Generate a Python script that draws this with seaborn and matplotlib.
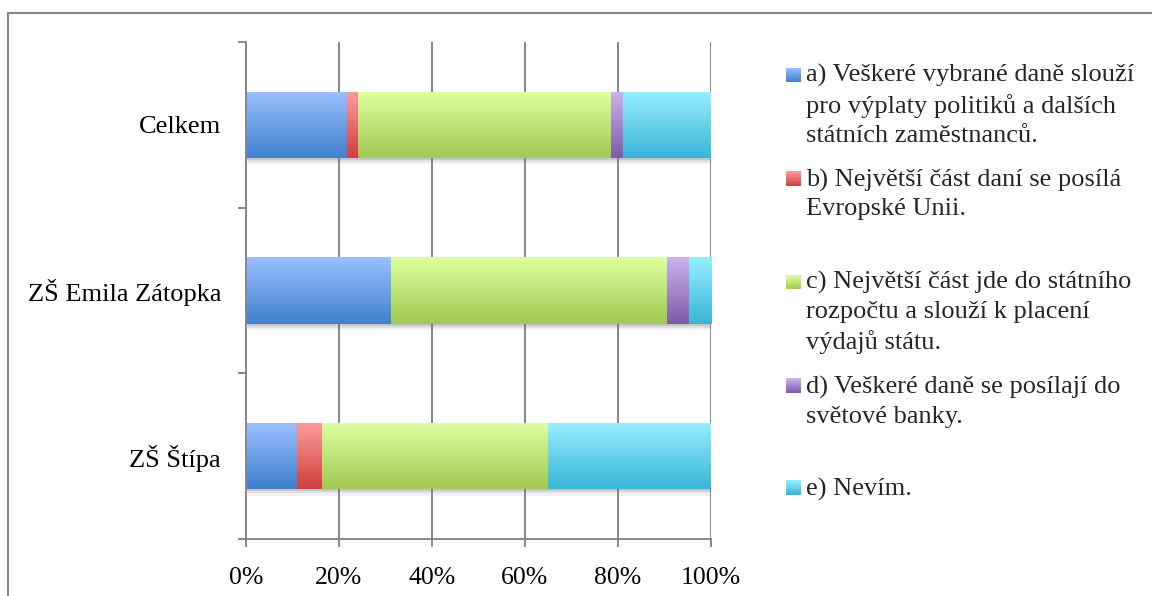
import numpy as np
import pandas as pd
import matplotlib
matplotlib.use("Agg")
import matplotlib.pyplot as plt
import seaborn as sns
import matplotlib.patheffects as pe
from matplotlib.colors import to_rgb
from matplotlib.patches import Rectangle
from matplotlib.legend_handler import HandlerBase
from matplotlib.lines import Line2D
from matplotlib.font_manager import FontProperties

# ---------------- data ----------------
categories = ["Celkem", "ZŠ Emila Zátopka", "ZŠ Štípa"]
series_labels = [
    "a) Veškeré vybrané daně slouží\npro výplaty politiků a dalších\nstátních zaměstnanců.",
    "b) Největší část daní se posílá\nEvropské Unii.",
    "c) Největší část jde do státního\nrozpočtu a slouží k placení\nvýdajů státu.",
    "d) Veškeré daně se posílají do\nsvětové banky.",
    "e) Nevím.",
]
a_vals = [21.5, 31.0, 10.8]
b_vals = [2.5, 0.0, 5.4]
c_vals = [54.4, 59.5, 48.6]
d_vals = [2.5, 4.8, 0.0]
e_vals = [19.0, 4.8, 35.1]
tick_values = [0, 20, 40, 60, 80, 100]
tick_labels = ["0%", "20%", "40%", "60%", "80%", "100%"]

# gradient colours (top, bottom) per series
top_colors = ["#9BC1FF", "#FF9C9C", "#DEFFA2", "#CBB3EC", "#97EFFF"]
bottom_colors = ["#3F7FCD", "#D03E3E", "#A1C94F", "#7D5AA8", "#38B5D6"]

sns.set_theme(style="white")
plt.rcParams["font.family"] = ["Liberation Serif", "DejaVu Serif"]

W, H = 1152, 596
fig = plt.figure(figsize=(W / 100, H / 100), dpi=100)
fig.patch.set_facecolor("white")
ax = fig.add_axes([246 / W, 1 - 539 / H, (711 - 246) / W, (539 - 42) / H])

values = np.array([a_vals, b_vals, c_vals, d_vals, e_vals], dtype=float)
pct = values / values.sum(axis=0) * 100
cum = np.cumsum(pct, axis=0)

grey = "#878787"
ax.set_axisbelow(True)
ax.xaxis.grid(True, color=grey, linewidth=1.4)
ax.yaxis.grid(False)

bar_sets = []
for i in reversed(range(5)):
    mid = tuple((np.array(to_rgb(top_colors[i])) + np.array(to_rgb(bottom_colors[i]))) / 2)
    n0 = len(ax.patches)
    df = pd.DataFrame({"category": categories, "value": cum[i]})
    sns.barplot(data=df, x="value", y="category", order=categories, orient="h",
                color=mid, saturation=1, width=0.4, linewidth=0, edgecolor="none",
                ax=ax, errorbar=None)
    bar_sets.append((i, ax.patches[n0:]))

ax.set_xlim(0, 100)
ax.set_ylim(2.5, -0.5)

for i, patches in bar_sets:
    t = np.array(to_rgb(top_colors[i]))
    b = np.array(to_rgb(bottom_colors[i]))
    f = np.linspace(0, 1, 128)[:, None]
    grad = (t * (1 - f) + b * f)[:, None, :]
    for p in patches:
        x0, w = p.get_x(), p.get_width()
        y0, h = p.get_y(), p.get_height()
        if w <= 0:
            continue
        if i == 4:
            p.set_path_effects([
                pe.SimplePatchShadow(offset=(1.5, -4.5), shadow_rgbFace="0.5", alpha=0.10),
                pe.SimplePatchShadow(offset=(1.0, -3.0), shadow_rgbFace="0.45", alpha=0.15),
                pe.SimplePatchShadow(offset=(0.5, -1.5), shadow_rgbFace="0.4", alpha=0.2),
                pe.Normal()])
        im = ax.imshow(grad, extent=(x0, x0 + w, y0 + h, y0), origin="upper",
                       aspect="auto", interpolation="bilinear", zorder=2 + (4 - i) * 0.1)
        im.set_clip_path(p)

ax.set_xlim(0, 100)
ax.set_ylim(2.5, -0.5)

# axes styling
for s in ["top", "right"]:
    ax.spines[s].set_visible(False)
for s in ["left", "bottom"]:
    ax.spines[s].set_color(grey)
    ax.spines[s].set_linewidth(1.4)
    ax.spines[s].set_zorder(3)

ax.set_xticks(tick_values)
ax.set_xticklabels(tick_labels)
ax.set_yticks(range(len(categories)))
ax.set_yticklabels(categories)
ax.set_yticks([-0.5, 0.5, 1.5, 2.5], minor=True)
ax.tick_params(axis="x", which="major", length=6, width=1.4, color=grey, pad=14,
               labelsize=18.5, labelcolor="black", bottom=True)
ax.tick_params(axis="y", which="major", length=0, pad=18, labelsize=19, labelcolor="black")
ax.tick_params(axis="y", which="minor", length=6, width=1.4, color=grey, left=True)
ax.set_xlabel("")
ax.set_ylabel("")

# legend with gradient squares placed at first line of each entry
legend_fs = 19
linespacing = 1.38
renderer = fig.canvas.get_renderer()
_, lp_h, lp_d = renderer.get_text_width_height_descent(
    "lp", FontProperties(family=["Liberation Serif"], size=legend_fs), ismath=False)
line_pts = linespacing * (lp_h - lp_d) * 72 / 100


class GradHandler(HandlerBase):
    def __init__(self, top, bottom, shift):
        super().__init__()
        self.top = np.array(to_rgb(top))
        self.bottom = np.array(to_rgb(bottom))
        self.shift = shift

    def create_artists(self, legend, orig_handle, xdescent, ydescent, width, height, fontsize, trans):
        n = 10
        size = width
        y0 = -ydescent + height / 2 - size / 2 + self.shift
        arts = []
        for k in range(n):
            fr = (k + 0.5) / n
            col = self.top * (1 - fr) + self.bottom * fr
            r = Rectangle((-xdescent, y0 + size * (1 - (k + 1) / n)), width, size / n + 0.05,
                          facecolor=col, edgecolor="none", transform=trans)
            arts.append(r)
        return arts


handles = []
labels = []
hmap = {}
for i, lab in enumerate(series_labels):
    nlines = lab.count("\n") + 1
    padded = lab + "\n" * (3 - nlines)
    h = Rectangle((0, 0), 1, 1)
    handles.append(h)
    labels.append(padded)
    hmap[h] = GradHandler(top_colors[i], bottom_colors[i], line_pts + 4.5)

leg = fig.legend(handles, labels, handler_map=hmap, loc="upper left",
                 bbox_to_anchor=(786 / W, 1 - 64 / H), frameon=False, fontsize=legend_fs,
                 handlelength=0.55, handleheight=0.55, handletextpad=0.2,
                 labelspacing=0.84, borderpad=0, borderaxespad=0)
for t in leg.get_texts():
    t.set_linespacing(linespacing)

# outer chart border (top and left edges visible)
fig.add_artist(Line2D([7.5 / W, 1], [1 - 12.5 / H, 1 - 12.5 / H], transform=fig.transFigure,
                      color=grey, linewidth=1.5))
fig.add_artist(Line2D([7.5 / W, 7.5 / W], [0, 1 - 12.5 / H], transform=fig.transFigure,
                      color=grey, linewidth=1.5))

fig.savefig("out.png", dpi=100)
